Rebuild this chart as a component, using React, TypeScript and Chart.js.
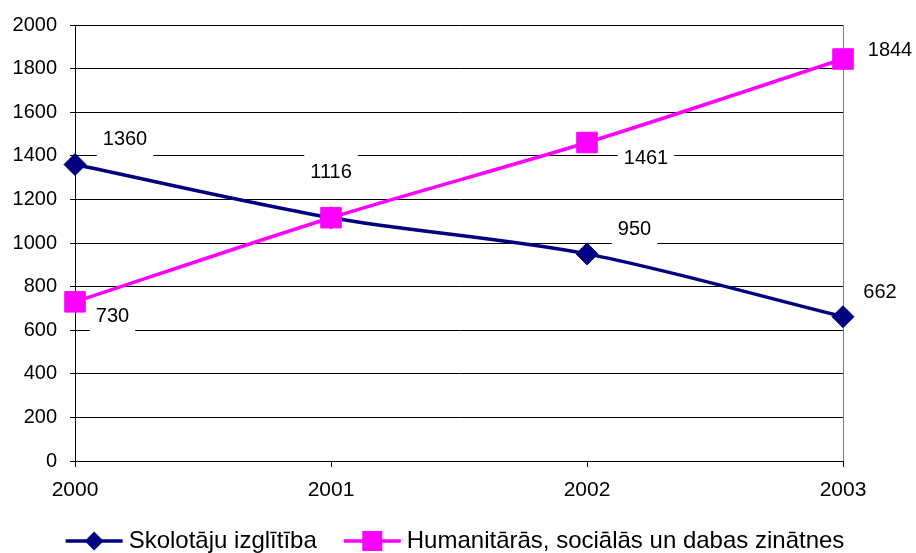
import React, { useEffect, useRef } from "react";
import { Chart, registerables } from "chart.js";

Chart.register(...registerables);

const years = ["2000", "2001", "2002", "2003"];
const teacherEducation = [1360, 1116, 950, 662];
const humanitiesSciences = [730, 1116, 1461, 1844];
const seriesNames = ["Skolotāju izglītība", "Humanitārās, sociālās un dabas zinātnes"];
const yMin = 0;
const yMax = 2000;
const yStep = 200;

const FONT = "'Liberation Sans', Arial, sans-serif";
const NAVY = "#000080";
const MAGENTA = "#FF00FF";

// label offsets (style): [dx, dy] from the point, null = no label
const labelOffsets: (number[] | null)[][] = [
  [[50, -26], [0, -46], [47.5, -25.6], [37, -25]],
  [[37.5, 13.6], null, [59, 14.5], [47, -10]],
];

const pointLabelPlugin = {
  id: "pointLabels",
  beforeDatasetsDraw(chart: any) {
    const ctx = chart.ctx;
    ctx.save();
    ctx.font = `20px ${FONT}`;
    ctx.textAlign = "center";
    ctx.textBaseline = "middle";
    chart.data.datasets.forEach((ds: any, i: number) => {
      const meta = chart.getDatasetMeta(i);
      meta.data.forEach((pt: any, j: number) => {
        const off = labelOffsets[i][j];
        if (!off) return;
        const cx = pt.x + off[0];
        const cy = pt.y + off[1];
        const txt = String(ds.data[j]);
        const w = ctx.measureText(txt).width + 12;
        const h = 40;
        ctx.fillStyle = "#fff";
        ctx.fillRect(cx - w / 2, cy - h / 2, w, h);
        ctx.fillStyle = "#000";
        ctx.fillText(txt, cx, cy + 1);
      });
    });
    ctx.restore();
  },
};

const legendPlugin = {
  id: "customLegend",
  afterDraw(chart: any) {
    const ctx = chart.ctx;
    ctx.save();
    ctx.font = `24px ${FONT}`;
    ctx.textBaseline = "middle";
    const lineLen = 57;
    const gap = 6;
    const spacing = 27;
    const y = 541;
    const items = chart.data.datasets.map((ds: any) => ({
      label: ds.label,
      color: ds.borderColor,
      style: ds.pointStyle,
      tw: ctx.measureText(ds.label).width,
    }));
    const total =
      items.reduce((s: number, it: any) => s + lineLen + gap + it.tw, 0) +
      spacing * (items.length - 1);
    let x = (chart.width - total) / 2 - 3;
    items.forEach((it: any) => {
      ctx.strokeStyle = it.color;
      ctx.lineWidth = 3.5;
      ctx.beginPath();
      ctx.moveTo(x, y);
      ctx.lineTo(x + lineLen, y);
      ctx.stroke();
      const mx = x + lineLen / 2;
      ctx.fillStyle = it.color;
      ctx.beginPath();
      if (it.style === "rectRot") {
        const r = 9.5;
        ctx.moveTo(mx - r, y);
        ctx.lineTo(mx, y - r);
        ctx.lineTo(mx + r, y);
        ctx.lineTo(mx, y + r);
        ctx.closePath();
        ctx.fill();
      } else {
        ctx.fillRect(mx - 10, y - 10, 20, 20);
      }
      ctx.fillStyle = "#000";
      ctx.fillText(it.label, x + lineLen + gap, y);
      x += lineLen + gap + it.tw + spacing;
    });
    ctx.restore();
  },
};

export default function App() {
  const ref = useRef<HTMLCanvasElement>(null);
  useEffect(() => {
    if (!ref.current) return;
    const chart = new Chart(ref.current, {
      type: "line",
      data: {
        labels: years,
        datasets: [
          {
            label: seriesNames[0],
            data: teacherEducation,
            order: 2,
            borderColor: NAVY,
            backgroundColor: NAVY,
            borderWidth: 3.5,
            tension: 0.3,
            pointStyle: "rectRot",
            pointRadius: 11,
            pointBorderWidth: 1,
            pointBackgroundColor: NAVY,
            pointBorderColor: NAVY,
            fill: false,
          },
          {
            label: seriesNames[1],
            data: humanitiesSciences,
            order: 1,
            borderColor: MAGENTA,
            backgroundColor: MAGENTA,
            borderWidth: 3.5,
            tension: 0.3,
            pointStyle: "rect",
            pointRadius: 14.5,
            pointBorderWidth: 1,
            pointBackgroundColor: MAGENTA,
            pointBorderColor: MAGENTA,
            fill: false,
          },
        ],
      },
      options: {
        animation: false,
        responsive: false,
        devicePixelRatio: 1,
        layout: { padding: { left: 0, right: 73, top: 25, bottom: 0 } },
        plugins: {
          legend: { display: false },
          tooltip: { enabled: false },
        },
        scales: {
          x: {
            offset: false,
            afterFit: (s: any) => {
              s.height = 92;
            },
            grid: {
              offset: false,
              color: (c: any) => (c.index === years.length - 1 ? "#808080" : "rgba(0,0,0,0)"),
              tickColor: "#000",
              tickLength: 6,
              lineWidth: 1,
            },
            border: { color: "#000", width: 1 },
            ticks: {
              color: "#000",
              font: { family: FONT, size: 21 },
              padding: 11,
              maxRotation: 0,
            },
          },
          y: {
            min: yMin,
            max: yMax,
            afterFit: (s: any) => {
              s.width = 75;
            },
            grid: {
              color: "#000",
              tickColor: "#000",
              tickLength: 5,
              lineWidth: 1,
            },
            border: { color: "#000", width: 1 },
            ticks: {
              stepSize: yStep,
              color: "#000",
              font: { family: FONT, size: 20 },
              padding: 13,
              callback: (v: any) => String(v),
            },
          },
        },
      },
      plugins: [pointLabelPlugin, legendPlugin],
    });
    return () => chart.destroy();
  }, []);
  return (
    <div style={{ position: "fixed", left: 0, top: 0, width: 916, height: 553, background: "#fff" }}>
      <canvas ref={ref} width={916} height={553} style={{ width: 916, height: 553 }} />
    </div>
  );
}
